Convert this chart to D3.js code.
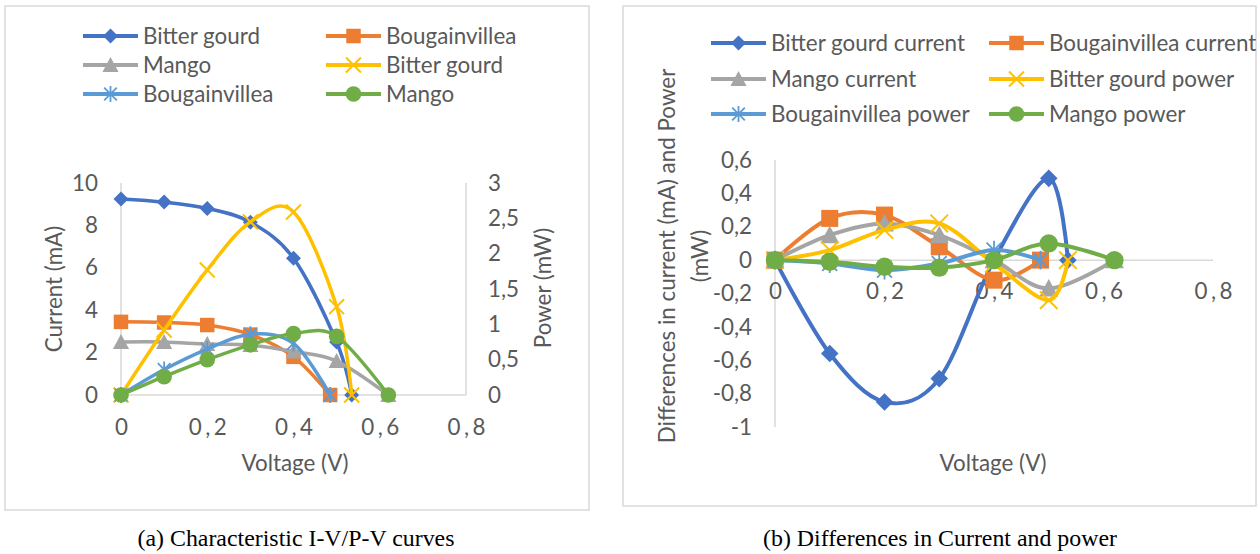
<!DOCTYPE html>
<html><head><meta charset="utf-8">
<script src="https://cdn.jsdelivr.net/npm/d3@7"></script>
<style>body{margin:0;background:#fff} svg{display:block}</style>
</head><body><svg id="c" width="1260" height="554"></svg>
<script>
// ---------- data ----------
const vBitterGourd   = [0, 0.1, 0.2, 0.3, 0.4, 0.5, 0.535];
const vBougainvillea = [0, 0.1, 0.2, 0.3, 0.4, 0.485];
const vMango         = [0, 0.1, 0.2, 0.3, 0.4, 0.5, 0.62];

const iBitterGourd   = [9.25, 9.1, 8.8, 8.15, 6.45, 2.5, 0];
const iBougainvillea = [3.45, 3.42, 3.3, 2.85, 1.8, 0];
const iMango         = [2.5, 2.5, 2.4, 2.35, 2.05, 1.6, 0];
const pBitterGourd   = [0, 0.92, 1.77, 2.45, 2.59, 1.25, 0];
const pBougainvillea = [0, 0.36, 0.65, 0.86, 0.73, 0];
const pMango         = [0, 0.26, 0.5, 0.71, 0.87, 0.83, 0];

const dIBitterGourd   = [0, -0.56, -0.85, -0.71, 0, 0.49, 0];
const dIBougainvillea = [0, 0.25, 0.27, 0.08, -0.12, 0];
const dIMango         = [0, 0.15, 0.22, 0.15, 0, -0.17, 0];
const dPBitterGourd   = [0, 0.06, 0.18, 0.22, -0.02, -0.24, 0];
const dPBougainvillea = [0, -0.02, -0.06, -0.02, 0.06, 0];
const dPMango         = [0, -0.01, -0.04, -0.045, 0, 0.1, 0];

const xTicks      = [0, 0.2, 0.4, 0.6, 0.8];
const currentTicks= [0, 2, 4, 6, 8, 10];
const powerTicks  = [0, 0.5, 1, 1.5, 2, 2.5, 3];
const diffTicks   = [-1, -0.8, -0.6, -0.4, -0.2, 0, 0.2, 0.4, 0.6];

const leftLegend  = ["Bitter gourd", "Bougainvillea", "Mango", "Bitter gourd", "Bougainvillea", "Mango"];
const rightLegend = ["Bitter gourd current", "Bougainvillea current", "Mango current",
                     "Bitter gourd power", "Bougainvillea power", "Mango power"];
const captionA = "(a) Characteristic I-V/P-V curves";
const captionB = "(b) Differences in Current and power";

// ---------- style ----------
const colors  = ["#4472C4", "#ED7D31", "#A5A5A5", "#FFC000", "#5B9BD5", "#70AD47"];
const markers = ["diamond", "square", "triangle", "x", "star", "circle"];
const TXT = "#595959", GRID = "#D9D9D9";
const SANS = "Lato, 'Liberation Sans', sans-serif";
const SERIF = "'Liberation Serif', 'Times New Roman', serif";

const svg = d3.select("#c");
svg.append("rect").attr("width", 1260).attr("height", 554).attr("fill", "#fff");

function fit(text, family, target) {
  const t = svg.append("text").attr("font-family", family).attr("font-size", 100).text(text);
  const w = t.node().getComputedTextLength(); t.remove();
  return 100 * target / w;
}
const FS = fit("Bitter gourd current", SANS, 194);
const CFS = fit(captionA, SERIF, 317);

const fmt = d3.formatLocale({decimal: ",", thousands: " ", grouping: [3], currency: ["", ""], minus: "-"}).format("");

function drawMarker(g, type, color, x, y, s) {
  if (type === "diamond") {
    g.append("path").attr("d", `M${x},${y-6.5*s}L${x+6.5*s},${y}L${x},${y+6.5*s}L${x-6.5*s},${y}Z`).attr("fill", color);
  } else if (type === "square") {
    g.append("rect").attr("x", x-6.3*s).attr("y", y-6.3*s).attr("width", 12.6*s).attr("height", 12.6*s).attr("fill", color);
  } else if (type === "triangle") {
    g.append("path").attr("d", `M${x},${y-7*s}L${x+7*s},${y+6*s}L${x-7*s},${y+6*s}Z`).attr("fill", color);
  } else if (type === "x") {
    g.append("path").attr("d", `M${x-6.5*s},${y-6.5*s}L${x+6.5*s},${y+6.5*s}M${x+6.5*s},${y-6.5*s}L${x-6.5*s},${y+6.5*s}`)
      .attr("stroke", color).attr("stroke-width", 2).attr("fill", "none");
  } else if (type === "star") {
    g.append("path").attr("d", `M${x-5.5*s},${y-5.5*s}L${x+5.5*s},${y+5.5*s}M${x+5.5*s},${y-5.5*s}L${x-5.5*s},${y+5.5*s}M${x},${y-7*s}L${x},${y+7*s}`)
      .attr("stroke", color).attr("stroke-width", 1.8).attr("fill", "none");
  } else {
    g.append("circle").attr("cx", x).attr("cy", y).attr("r", 6.8*s).attr("fill", color);
  }
}

function drawSeries(g, xs, ys, xScale, yScale, idx, lw, ms) {
  const pts = xs.map((v, i) => [xScale(v), yScale(ys[i])]);
  g.append("path").attr("d", d3.line().curve(d3.curveCatmullRom.alpha(0))(pts))
    .attr("fill", "none").attr("stroke", colors[idx]).attr("stroke-width", lw).attr("stroke-linejoin", "round");
  pts.forEach(p => drawMarker(g, markers[idx], colors[idx], p[0], p[1], ms));
}

function drawLegend(names, cols, rows, lineLen, ms) {
  names.forEach((n, i) => {
    const c = cols[i % 2], y = rows[Math.floor(i / 2)];
    const g = svg.append("g");
    g.append("line").attr("x1", c).attr("x2", c + lineLen).attr("y1", y).attr("y2", y)
      .attr("stroke", colors[i]).attr("stroke-width", 4);
    drawMarker(g, markers[i], colors[i], c + lineLen / 2, y, ms);
    g.append("text").attr("x", c + lineLen + 5).attr("y", y).attr("dy", "0.35em")
      .attr("font-family", SANS).attr("font-size", FS).attr("fill", TXT).text(n);
  });
}

function styleAxis(g) {
  g.select(".domain").remove();
  g.selectAll(".tick line").remove();
  g.selectAll("text").attr("font-family", SANS).attr("font-size", FS).attr("fill", TXT);
}

// ---------- panel frames ----------
svg.append("rect").attr("x", 5).attr("y", 6).attr("width", 584).attr("height", 504)
  .attr("fill", "none").attr("stroke", GRID).attr("stroke-width", 1.5);
svg.append("rect").attr("x", 623).attr("y", 6).attr("width", 633).attr("height", 500)
  .attr("fill", "none").attr("stroke", GRID).attr("stroke-width", 1.5);

// ---------- left chart ----------
const xL = d3.scaleLinear().domain([0, 0.8]).range([121, 466]);
const yI = d3.scaleLinear().domain([0, 10]).range([395, 183]);
const yP = d3.scaleLinear().domain([0, 3]).range([395, 183]);

svg.append("line").attr("x1", xL(0)).attr("x2", xL(0)).attr("y1", yI(10)).attr("y2", yI(0)).attr("stroke", GRID).attr("stroke-width", 1.5);
svg.append("line").attr("x1", xL(0.8)).attr("x2", xL(0.8)).attr("y1", yI(10)).attr("y2", yI(0)).attr("stroke", GRID).attr("stroke-width", 1.5);
svg.append("line").attr("x1", xL(0)).attr("x2", xL(0.8)).attr("y1", yI(0)).attr("y2", yI(0)).attr("stroke", GRID).attr("stroke-width", 1.5);

svg.append("g").attr("transform", `translate(0,${yI(0)})`)
  .call(d3.axisBottom(xL).tickValues(xTicks).tickFormat(fmt).tickSize(0))
  .call(styleAxis)
  .call(g => g.selectAll("text").attr("y", 32).attr("dy", "0.35em").attr("letter-spacing", 3.5).attr("dx", 1.75));
svg.append("g").attr("transform", `translate(${xL(0)},0)`)
  .call(d3.axisLeft(yI).tickValues(currentTicks).tickFormat(fmt).tickSize(0).tickPadding(23))
  .call(styleAxis);
svg.append("g").attr("transform", `translate(${xL(0.8)},0)`)
  .call(d3.axisRight(yP).tickValues(powerTicks).tickFormat(fmt).tickSize(0).tickPadding(22))
  .call(styleAxis);

const gL = svg.append("g");
drawSeries(gL, vBitterGourd, iBitterGourd, xL, yI, 0, 3.5, 1.15);
drawSeries(gL, vBougainvillea, iBougainvillea, xL, yI, 1, 3.5, 1.15);
drawSeries(gL, vMango, iMango, xL, yI, 2, 3.5, 1.15);
drawSeries(gL, vBitterGourd, pBitterGourd, xL, yP, 3, 3.5, 1.15);
drawSeries(gL, vBougainvillea, pBougainvillea, xL, yP, 4, 3.5, 1.15);
drawSeries(gL, vMango, pMango, xL, yP, 5, 3.5, 1.15);

svg.append("text").attr("x", 295).attr("y", 463).attr("dy", "0.35em").attr("text-anchor", "middle")
  .attr("font-family", SANS).attr("font-size", FS).attr("fill", TXT).text("Voltage (V)");
svg.append("text").attr("transform", "translate(54,289) rotate(-90)").attr("dy", "0.35em").attr("text-anchor", "middle")
  .attr("font-family", SANS).attr("font-size", FS).attr("fill", TXT).text("Current (mA)");
svg.append("text").attr("transform", "translate(543,288) rotate(-90)").attr("dy", "0.35em").attr("text-anchor", "middle")
  .attr("font-family", SANS).attr("font-size", FS).attr("fill", TXT).text("Power (mW)");

drawLegend(leftLegend, [83, 326], [36, 65, 94], 55, 1.15);

// ---------- right chart ----------
const xR = d3.scaleLinear().domain([0, 0.8]).range([775, 1213]);
const yD = d3.scaleLinear().domain([-1, 0.6]).range([427, 160]);

svg.append("line").attr("x1", xR(0)).attr("x2", xR(0)).attr("y1", yD(0.6)).attr("y2", yD(-1)).attr("stroke", GRID).attr("stroke-width", 1.5);
svg.append("line").attr("x1", xR(0)).attr("x2", xR(0.8)).attr("y1", yD(0)).attr("y2", yD(0)).attr("stroke", GRID).attr("stroke-width", 1.5);

svg.append("g").attr("transform", `translate(0,${yD(0)})`)
  .call(d3.axisBottom(xR).tickValues(xTicks).tickFormat(fmt).tickSize(0))
  .call(styleAxis)
  .call(g => g.selectAll("text").attr("y", 31).attr("dy", "0.35em").attr("letter-spacing", 3.5).attr("dx", 1.75));
svg.append("g").attr("transform", `translate(${xR(0)},0)`)
  .call(d3.axisLeft(yD).tickValues(diffTicks).tickFormat(fmt).tickSize(0).tickPadding(23))
  .call(styleAxis);

const gR = svg.append("g");
drawSeries(gR, vBitterGourd, dIBitterGourd, xR, yD, 0, 4, 1.35);
drawSeries(gR, vBougainvillea, dIBougainvillea, xR, yD, 1, 4, 1.35);
drawSeries(gR, vMango, dIMango, xR, yD, 2, 4, 1.35);
drawSeries(gR, vBitterGourd, dPBitterGourd, xR, yD, 3, 4, 1.35);
drawSeries(gR, vBougainvillea, dPBougainvillea, xR, yD, 4, 4, 1.35);
drawSeries(gR, vMango, dPMango, xR, yD, 5, 4, 1.35);

svg.append("text").attr("x", 993).attr("y", 463).attr("dy", "0.35em").attr("text-anchor", "middle")
  .attr("font-family", SANS).attr("font-size", FS).attr("fill", TXT).text("Voltage (V)");
svg.append("text").attr("transform", "translate(667,256) rotate(-90)").attr("dy", "0.35em").attr("text-anchor", "middle")
  .attr("font-family", SANS).attr("font-size", FS).attr("fill", TXT).text("Differences in current (mA) and Power");
svg.append("text").attr("transform", "translate(700,256) rotate(-90)").attr("dy", "0.35em").attr("text-anchor", "middle")
  .attr("font-family", SANS).attr("font-size", FS).attr("fill", TXT).text("(mW)");

drawLegend(rightLegend, [711, 989], [43, 79, 114], 55, 1.15);

// ---------- captions ----------
svg.append("text").attr("x", 296).attr("y", 546).attr("text-anchor", "middle")
  .attr("font-family", SERIF).attr("font-size", CFS).attr("fill", "#000").text(captionA);
svg.append("text").attr("x", 940).attr("y", 546).attr("text-anchor", "middle")
  .attr("font-family", SERIF).attr("font-size", CFS).attr("fill", "#000").text(captionB);
</script></body></html>
